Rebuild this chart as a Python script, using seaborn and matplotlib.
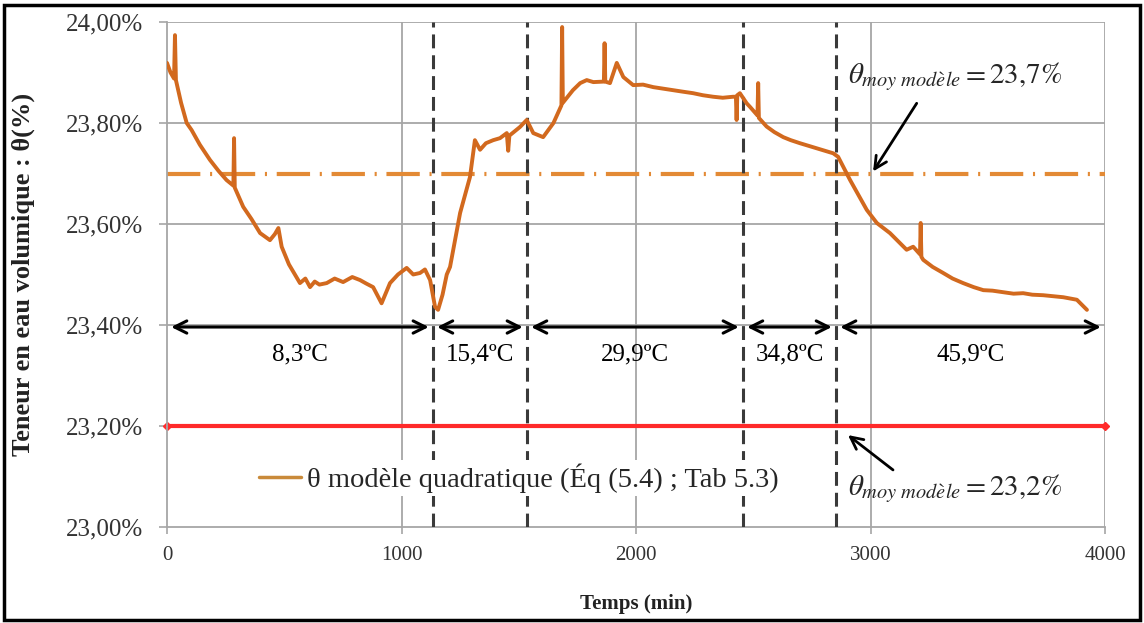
import matplotlib
matplotlib.use("Agg")
import matplotlib.pyplot as plt
import seaborn as sns
import pandas as pd
from matplotlib.patches import Rectangle
from matplotlib.lines import Line2D

# ---------------- data ----------------
temps_min = [0, 15, 30, 34, 38, 60, 84, 105, 140, 183, 220, 254, 283, 286, 289,
             325, 360, 397, 439, 460, 475, 489, 520, 567, 590, 610, 630, 650, 681,
             715, 751, 790, 823, 850, 879, 915, 951, 985, 1022, 1050, 1079, 1100,
             1122, 1143, 1156, 1175, 1193, 1207, 1250, 1292, 1313, 1335, 1360, 1391,
             1420, 1449, 1455, 1460, 1505, 1534, 1562, 1604, 1648, 1682, 1685, 1688,
             1731, 1762, 1790, 1818, 1863, 1866, 1869, 1889, 1918, 1946, 1988, 2030,
             2074, 2115, 2158, 2200, 2244, 2285, 2329, 2370, 2414, 2426, 2429, 2432,
             2443, 2472, 2486, 2518, 2521, 2524, 2557, 2590, 2628, 2660, 2699, 2735,
             2770, 2805, 2841, 2862, 2913, 2984, 3027, 3083, 3154, 3182, 3211, 3214,
             3217, 3225, 3265, 3310, 3350, 3395, 3440, 3481, 3520, 3566, 3610, 3651,
             3690, 3736, 3780, 3822, 3880, 3923]
theta_modele = [23.919, 23.900, 23.888, 23.974, 23.885, 23.840, 23.800, 23.786, 23.757,
                23.727, 23.705, 23.687, 23.676, 23.770, 23.672, 23.634, 23.610, 23.582,
                23.568, 23.580, 23.592, 23.555, 23.520, 23.483, 23.492, 23.475, 23.486,
                23.480, 23.483, 23.492, 23.485, 23.495, 23.489, 23.482, 23.475, 23.443,
                23.483, 23.500, 23.513, 23.500, 23.503, 23.510, 23.489, 23.436, 23.430,
                23.460, 23.500, 23.515, 23.622, 23.693, 23.766, 23.747, 23.760, 23.766,
                23.770, 23.780, 23.745, 23.775, 23.792, 23.806, 23.780, 23.772, 23.800,
                23.835, 23.990, 23.840, 23.865, 23.879, 23.885, 23.881, 23.882, 23.958,
                23.882, 23.879, 23.919, 23.891, 23.875, 23.876, 23.871, 23.868, 23.865,
                23.862, 23.859, 23.855, 23.852, 23.850, 23.852, 23.852, 23.806, 23.855,
                23.859, 23.839, 23.832, 23.815, 23.879, 23.810, 23.793, 23.782, 23.772,
                23.766, 23.760, 23.755, 23.750, 23.745, 23.740, 23.733, 23.687, 23.628,
                23.602, 23.582, 23.549, 23.555, 23.540, 23.602, 23.535, 23.529, 23.515,
                23.503, 23.492, 23.483, 23.475, 23.469, 23.468, 23.465, 23.462, 23.463,
                23.460, 23.459, 23.457, 23.455, 23.450, 23.430]

theta_moy_haut = 23.70
theta_moy_bas = 23.20
limites_paliers = [1134, 1535, 2456, 2853]
bornes_paliers = [0, 1134, 1535, 2456, 2853, 4000]
etiquettes_paliers = ["8,3ºC", "15,4ºC", "29,9ºC", "34,8ºC", "45,9ºC"]
yticks = [23.0, 23.2, 23.4, 23.6, 23.8, 24.0]
ytick_labels = ["23,00%", "23,20%", "23,40%", "23,60%", "23,80%", "24,00%"]
xticks = [0, 1000, 2000, 3000, 4000]
legende = "θ modèle quadratique (Éq (5.4) ; Tab 5.3)"
texte_haut = r"$\theta_{moy\ mod\grave{e}le} = 23{,}7\%$"
texte_bas = r"$\theta_{moy\ mod\grave{e}le} = 23{,}2\%$"

df = pd.DataFrame({"Temps (min)": temps_min, "theta": theta_modele})

# ---------------- style ----------------
sns.set_style("white")
plt.rcParams["font.family"] = ["Liberation Serif", "DejaVu Serif"]
plt.rcParams["mathtext.fontset"] = "stix"
plt.rcParams["lines.scale_dashes"] = False

W, H = 1144, 623
fig = plt.figure(figsize=(W / 100, H / 100), dpi=100)
L, R, T, B = 167, 1105, 22, 527
ax = fig.add_axes([L / W, 1 - B / H, (R - L) / W, (B - T) / H])

orange = "#D2691E"
grid_c = "#A6A6A6"

ax.set_xlim(0, 4000)
ax.set_ylim(23.0, 24.0)

# grid
for xv in xticks[1:]:
    ax.axvline(xv, color=grid_c, lw=1.3, zorder=0)
for yv in yticks[1:]:
    ax.axhline(yv, color=grid_c, lw=1.3, zorder=0)

# mean lines
ax.axhline(theta_moy_haut, color="#E38A35", lw=3, dashes=(24, 7, 1.5, 7), zorder=1)
ax.plot([0, 4000], [theta_moy_bas, theta_moy_bas], color="#FF2A2A", lw=3,
        marker="D", markersize=4, clip_on=False, zorder=2)

# vertical dashed separators
for xv in limites_paliers:
    ax.axvline(xv, color="#3A3A3A", lw=2.2, dashes=(10, 5), zorder=3)

# main series
sns.lineplot(data=df, x="Temps (min)", y="theta", color=orange, lw=2.8, ax=ax,
             zorder=4, legend=False)

# temperature arrows
y_fl = 23.396
for a, b, lab in zip(bornes_paliers[:-1], bornes_paliers[1:], etiquettes_paliers):
    ax.annotate("", xy=(a, y_fl), xytext=(b, y_fl),
                arrowprops=dict(arrowstyle="<->", lw=2.2, color="black",
                                mutation_scale=22, shrinkA=3, shrinkB=3),
                annotation_clip=False, zorder=5)
    ax.text((a + b) / 2, 23.342, lab, ha="center", va="center", fontsize=18,
            color="black")

# annotations
ax.annotate("", xy=(3011, 23.704), xytext=(3197, 23.839),
            arrowprops=dict(arrowstyle="->", lw=2, color="black", mutation_scale=22,
                            shrinkA=0, shrinkB=0), zorder=6)
ax.text(2904, 23.879, texte_haut, ha="left", va="baseline", fontsize=21)
ax.annotate("", xy=(2904, 23.182), xytext=(3096, 23.113),
            arrowprops=dict(arrowstyle="->", lw=2, color="black", mutation_scale=22,
                            shrinkA=0, shrinkB=0), zorder=6)
ax.text(2904, 23.063, texte_bas, ha="left", va="baseline", fontsize=21)

# legend
h = Line2D([], [], color="#C98A3A", lw=2.5)
leg = ax.legend([h], [legende], loc="center", bbox_to_anchor=(0.375, 0.097),
                frameon=True, fontsize=20.5, handlelength=1.5, handletextpad=0.2,
                borderpad=0.1, facecolor="white", edgecolor="none", framealpha=1.0,
                fancybox=False)
leg.set_zorder(7)

# axes
ax.set_yticks(yticks)
ax.set_yticklabels(ytick_labels)
ax.set_xticks(xticks)
ax.tick_params(axis="y", labelsize=18, length=6, width=1.2, color=grid_c,
               direction="out", pad=11, left=True, labelcolor="#333333")
ax.tick_params(axis="x", labelsize=15, length=5, width=1.2, color=grid_c,
               direction="out", pad=9, bottom=True, labelcolor="#333333")
for s in ["top", "right"]:
    ax.spines[s].set_visible(False)
for s in ["left", "bottom"]:
    ax.spines[s].set_color(grid_c)
    ax.spines[s].set_linewidth(1.3)

ax.set_xlabel("Temps (min)", fontsize=15, fontweight="bold", color="#222222")
ax.xaxis.set_label_coords(0.5, -0.133)
ax.set_ylabel("Teneur en eau volumique : θ(%)", fontsize=19, fontweight="bold",
              color="#222222")
ax.yaxis.set_label_coords(-0.141, 0.5)

# outer frame
fig.patches.append(Rectangle((4 / W, 1 - 620 / H), (1140 - 4) / W, (620 - 5) / H,
                             transform=fig.transFigure, fill=False, lw=2.5,
                             edgecolor="black"))

fig.savefig("out.png", dpi=100)
